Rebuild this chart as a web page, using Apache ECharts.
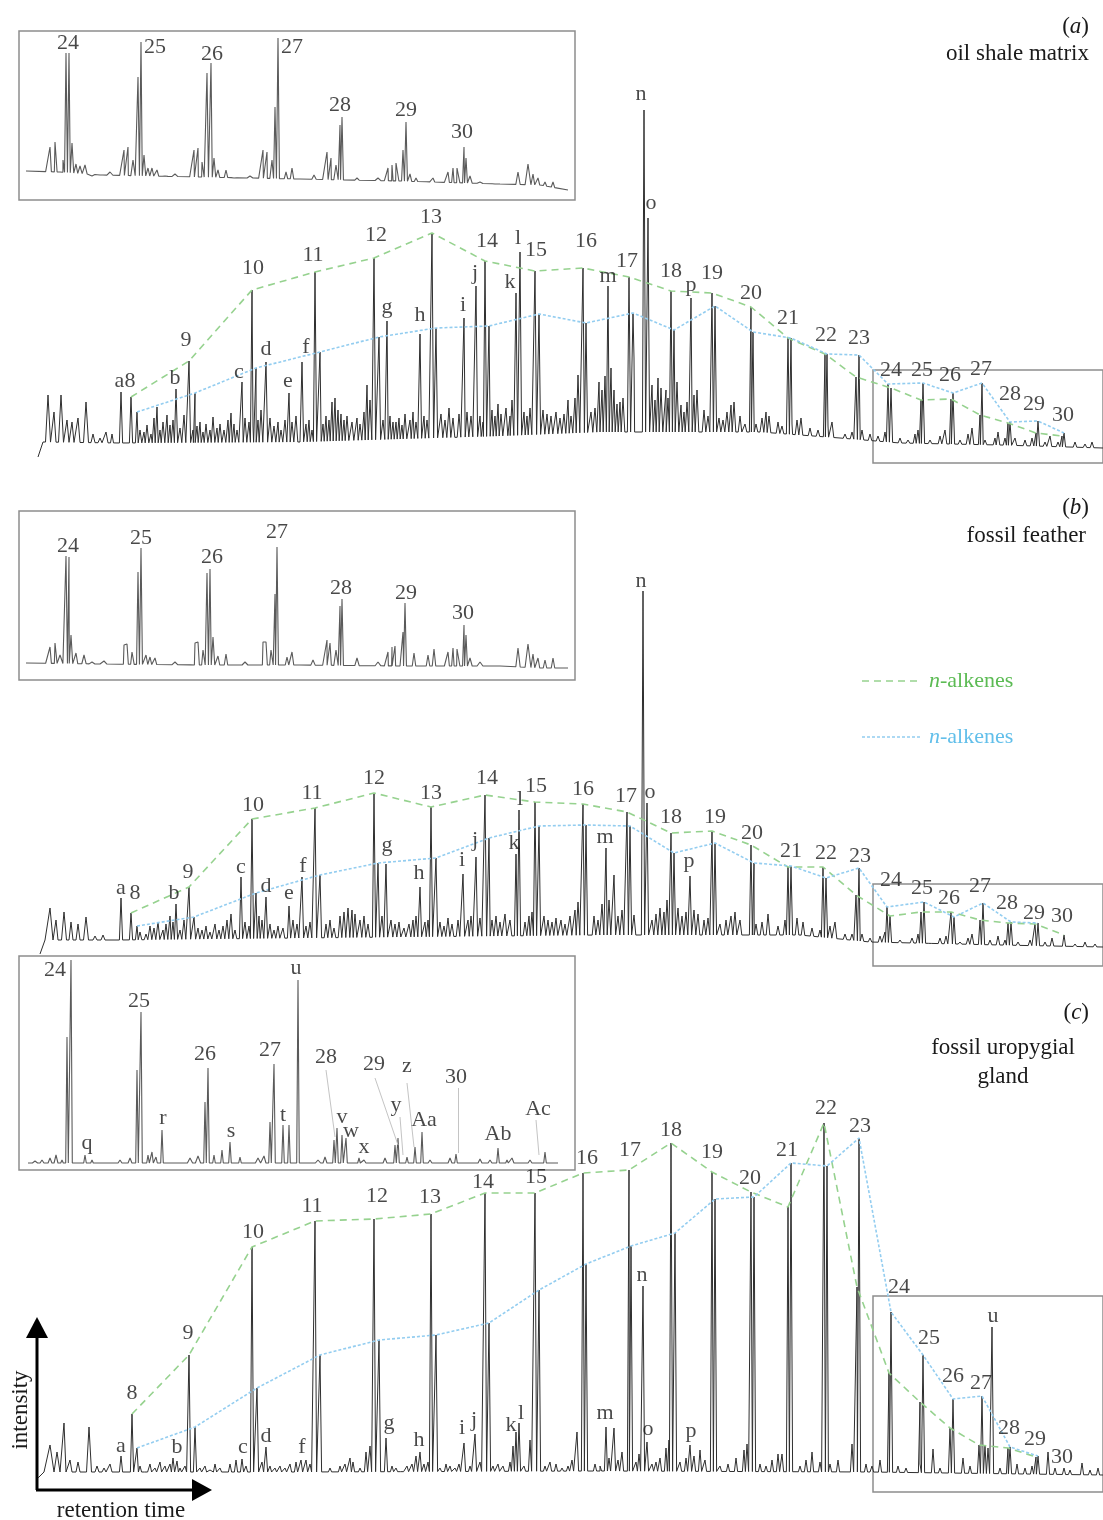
<!DOCTYPE html>
<html>
<head>
<meta charset="utf-8">
<title>pyrolysis chromatograms</title>
<script src="https://cdn.jsdelivr.net/npm/echarts@6/dist/echarts.min.js"></script>
<style>
    html, body { margin: 0; padding: 0; background: #fff; }
    #chart { width: 1103px; height: 1520px; }
</style>
</head>
<body>
<div id="chart"></div>
<script>
// x = retention (arbitrary units), y = intensity (arbitrary units)
// [x, intensity] or [x, intensity, half-width]

// ---------- (a) oil shale matrix ----------
var shaleBase = [[38,3],[43,18],[120,17],[300,18],[500,24],[600,28],[760,28],[840,22],[900,17],[1000,15],[1103,12]];
var shaleHumps = [[48,65,2.5],[54,48,2],[61,65,2.5],[67,40,2],[72,38,2],[78,42,2],[86,58,2.5],[93,26,2],[100,22,2],[106,28,2],[112,26,1.5]];
var shaleAlkanes = [[131,63],[189,99],[252,170],[315,188],[374,202],[432,227],[485,199],[535,189],[583,192],[629,183],[671,169],[712,167],[751,153],[788,122],[825,106],[856,83],[891,72],[921,60],[951,61],[980,45],[1008,37],[1036,27],[1062,24]];
var shaleAlkenes = [[137,48],[195,67],[256,92],[320,108],[379,123],[436,132],[489,134],[539,146],[586,137],[633,147],[674,130],[715,154],[753,128],[791,122],[827,106],[859,105],[888,76],[923,77],[953,67],[982,77],[1010,38],[1038,39],[1064,27]];
var shaleOther = [[121,68],[176,71],[242,78],[266,98],[289,67],[302,98],[387,139],[420,126],[464,142],[476,174],[516,167],[520,208],[608,174],[644,350],[648,242],[691,162]];
var shaleMinor = [[140,30],[144,28],[147,35],[151,26],[154,42],[157,53],[160,30],[163,38],[167,45],[170,35],[173,40],[180,32],[184,45],[193,30],[197,34],[200,38],[203,28],[206,36],[210,30],[213,43],[217,32],[220,36],[224,30],[228,40],[231,47],[234,36],[237,30],[245,42],[249,38],[253,34],[258,40],[261,50],[270,42],[274,34],[278,38],[281,30],[285,40],[292,38],[296,44],[306,36],[309,40],[312,30],[323,36],[326,44],[329,40],[332,58],[335,62],[338,50],[341,46],[344,40],[347,44],[352,38],[357,42],[360,36],[364,48],[367,75],[370,60],[383,40],[390,44],[393,38],[396,38],[399,42],[402,35],[405,46],[410,40],[413,48],[416,38],[424,44],[427,40],[441,46],[445,40],[449,52],[453,42],[459,46],[467,48],[471,44],[480,44],[483,38],[492,50],[495,44],[498,56],[501,46],[506,52],[510,44],[512,60],[524,48],[527,44],[530,52],[543,50],[547,46],[551,44],[556,48],[560,42],[564,46],[568,60],[571,44],[575,62],[578,85],[591,48],[595,52],[599,78],[602,70],[605,84],[611,92],[614,70],[617,56],[620,58],[623,62],[634,102],[652,75],[655,60],[658,82],[661,72],[666,70],[668,62],[677,78],[681,55],[684,48],[687,58],[694,65],[697,70],[704,50],[708,44],[719,42],[723,40],[727,48],[731,55],[734,58],[740,44],[745,36],[756,36],[762,42],[766,48],[769,44],[778,38],[782,34],[792,36],[797,40],[801,42],[810,32],[818,30],[828,34],[832,38],[845,26],[852,28],[862,30],[870,26],[878,24],[885,28],[900,22],[908,20],[915,26],[918,30],[930,20],[940,24],[945,30],[960,20],[968,26],[972,32],[985,20],[995,22],[998,28],[1005,22],[1015,22],[1025,20],[1032,22],[1045,18],[1050,24],[1058,18],[1075,18],[1085,16],[1092,18]];
var shaleLabels = [['a8',125,79],['b',175,82],['9',186,120],['c',239,88],['10',253,192],['d',266,111],['e',288,79],['f',306,113],['11',313,205],['12',376,225],['g',387,153],['h',420,145],['13',431,243],['i',463,155],['j',475,187],['14',487,219],['k',510,178],['l',518,222],['15',536,210],['16',586,219],['m',608,184],['17',627,199],['n',641,366],['o',651,257],['18',671,189],['p',691,175],['19',712,187],['20',751,167],['21',788,142],['22',826,125],['23',859,122],['24',891,90],['25',922,90],['26',950,85],['27',981,91],['28',1010,66],['29',1034,56],['30',1063,45]];

var shaleInsetBase = [[26,29],[60,28],[100,25],[200,23],[300,21],[400,19],[500,16],[540,15],[568,10]];
var shaleInsetPeaks = [[66,147],[69,147],[138,123],[141,158],[207,127],[211,137],[275,93],[278,162],[340,75],[342,83],[403,50],[406,78],[464,53],[466,42]];
var shaleInsetMinor = [[50,53,3],[55,58,2.5],[60,30,2],[63,40,1.5],[72,57,1.2],[76,36,1.2],[80,34,1.5],[85,35,1.5],[92,24,2],[100,26,2],[104,24,2],[110,28,2],[124,50,3],[128,53,2.5],[133,40,1.5],[144,45,1.2],[148,32,1.2],[152,32,1.2],[157,30,1.2],[165,24,2],[175,26,2],[194,50,3],[198,52,2.5],[202,38,1.5],[214,42,1.2],[218,30,1.2],[226,30,1.2],[234,22,2],[250,24,2],[263,50,3],[267,48,2.5],[272,40,1.5],[286,28,1.2],[292,32,1.2],[314,25,1.5],[327,48,3],[331,42,2],[336,35,1.5],[357,22,1.5],[378,22,2],[388,32,2.5],[392,35,2.5],[396,37,2],[410,26,1.2],[416,22,1.2],[428,20,1.2],[433,22,1.2],[448,28,2.5],[453,32,2.5],[457,32,2],[470,24,1.5],[480,18,2],[495,16,2],[518,28,1.5],[528,36,2],[533,26,1.2],[538,22,1.2],[545,18,1.2],[553,18,1.2]];
var shaleInsetLabels = [['24',68,157],['25',155,153],['26',212,146],['27',292,153],['28',340,95],['29',406,90],['30',462,68]];

// ---------- (b) fossil feather ----------
var featherBase = [[40,6],[45,20],[120,20],[300,22],[600,25],[800,25],[870,18],[1000,15],[1103,13]];
var featherHumps = [[50,52,3],[56,40,2],[64,48,2.5],[71,38,2],[78,36,2],[86,43,2.5],[95,24,2],[103,25,2],[110,22,2]];
var featherAlkanes = [[131,47],[189,73],[252,141],[315,152],[374,167],[431,153],[485,165],[535,158],[583,156],[627,148],[671,127],[712,129],[751,115],[788,93],[823,93],[856,65],[890,44],[921,48],[951,48],[980,40],[1008,37],[1035,36],[1064,25]];
var featherAlkenes = [[137,34],[194,43],[256,67],[320,85],[378,97],[436,102],[489,122],[539,134],[586,135],[630,134],[674,107],[715,117],[754,97],[791,94],[826,82],[859,92],[887,53],[924,58],[954,43],[983,57],[1011,38],[1038,37]];
var featherOther = [[121,62],[176,56],[241,83],[266,63],[289,54],[302,83],[386,96],[420,73],[463,86],[476,103],[516,106],[519,150],[606,112],[614,85],[643,369],[647,157],[690,84]];
var featherMinor = [[140,28],[146,26],[150,34],[154,32],[158,38],[163,30],[166,36],[170,44],[173,38],[180,30],[184,40],[198,32],[202,30],[206,34],[210,28],[215,36],[219,30],[223,34],[227,40],[231,46],[235,30],[245,38],[249,34],[259,44],[262,40],[270,36],[274,30],[278,34],[283,32],[293,40],[297,36],[306,34],[310,38],[326,36],[330,40],[334,32],[340,44],[344,48],[348,52],[352,50],[355,46],[360,40],[364,44],[368,36],[382,44],[391,40],[395,36],[399,38],[404,32],[409,36],[413,40],[416,44],[425,38],[428,40],[440,38],[444,34],[448,42],[452,36],[458,40],[468,40],[471,44],[480,42],[492,40],[496,44],[500,38],[505,46],[510,40],[525,38],[529,44],[532,48],[544,44],[548,40],[552,38],[556,42],[561,40],[565,36],[570,44],[575,50],[578,58],[594,44],[598,40],[602,56],[609,60],[618,44],[622,50],[634,45],[652,40],[656,46],[660,52],[664,48],[667,60],[678,52],[682,44],[686,48],[694,50],[698,46],[704,40],[708,42],[720,36],[726,40],[731,44],[735,48],[740,40],[756,36],[762,38],[768,46],[778,34],[785,40],[797,42],[803,38],[812,32],[820,30],[830,34],[835,38],[845,26],[852,26],[862,26],[870,22],[880,24],[885,28],[900,20],[912,22],[918,26],[930,18],[940,22],[946,24],[960,18],[968,22],[972,26],[990,20],[998,24],[1005,20],[1018,18],[1030,20],[1045,18],[1052,22],[1075,16],[1085,18],[1095,16]];
var featherLabels = [['a',121,72],['8',135,67],['b',174,67],['9',188,88],['c',241,93],['10',253,155],['d',266,74],['e',289,67],['f',303,94],['11',312,167],['12',374,182],['g',387,115],['h',419,87],['13',431,167],['i',462,100],['j',475,120],['14',487,182],['k',514,117],['l',520,161],['15',536,174],['16',583,171],['m',605,123],['17',626,164],['n',641,379],['o',650,168],['18',671,143],['p',689,99],['19',715,143],['20',752,127],['21',791,109],['22',826,107],['23',860,104],['24',891,80],['25',922,72],['26',949,62],['27',980,74],['28',1007,57],['29',1034,47],['30',1062,44]];

var featherInsetBase = [[26,17],[100,16],[200,15],[300,15],[400,14],[500,14],[540,12],[568,12]];
var featherInsetPeaks = [[66,124],[69,123],[138,108],[141,132],[207,107],[210,111],[275,86],[277,133],[340,74],[342,81],[403,48],[405,77],[464,55],[466,45]];
var featherInsetMinor = [[50,33,3],[55,37,2.5],[60,25,2],[71,45,1.2],[76,27,1.2],[84,25,1.5],[92,18,2],[104,19,2],[124,35,3],[127,36,2.5],[132,28,1.5],[146,25,1.2],[150,23,1.2],[155,22,1.2],[175,18,2],[195,37,3],[198,38,2.5],[203,30,1.5],[213,43,1.2],[218,24,1.2],[226,26,1.2],[245,18,2],[263,38,3],[266,38,2.5],[271,30,1.5],[287,23,1.2],[292,28,1.2],[313,20,1.5],[327,40,3],[330,37,2],[336,30,1.5],[357,22,1.5],[378,18,2],[388,28,2.5],[392,33,2.5],[395,34,2],[414,27,1.2],[428,25,1.2],[434,31,1.2],[448,28,2.5],[453,32,2.5],[457,31,2],[470,22,1.5],[480,18,2],[518,32,1.5],[528,36,2],[533,26,1.2],[538,22,1.2],[545,20,1.2],[553,22,1.2]];
var featherInsetLabels = [['24',68,134],['25',141,142],['26',212,123],['27',277,148],['28',341,92],['29',406,87],['30',463,67]];

// ---------- (c) fossil uropygial gland ----------
var glandBase = [[38,2],[44,8],[300,8],[600,9],[870,8],[1103,5]];
var glandHumps = [[50,35,4],[57,28,3],[64,57,2],[70,20,2],[78,18,2],[89,53,2.5],[97,14,2],[104,12,2],[110,16,2]];
var glandAlkanes = [[132,66],[189,125],[252,233],[315,259],[374,261],[431,266],[485,287],[535,287],[583,307],[629,310],[671,337],[712,308],[751,288],[788,273],[824,357],[857,193],[889,107],[920,78],[950,52],[979,35],[1008,32],[1036,23]];
var glandAlkenes = [[137,32],[195,53],[257,92],[320,125],[379,140],[436,145],[489,157],[539,190],[586,216],[631,234],[675,247],[715,281],[754,283],[791,317],[827,314],[859,342],[891,168],[923,125],[953,81],[982,84],[1010,33],[1038,24]];
var glandOther = [[121,24],[177,19],[242,21],[266,33],[301,20],[386,42],[420,28],[464,37],[475,46],[516,48],[519,57],[606,53],[614,52],[643,194],[647,38],[690,35],[992,153]];
var glandMinor = [[140,14],[146,10],[150,16],[155,12],[160,18],[165,14],[170,16],[173,22],[180,12],[185,14],[200,12],[205,14],[210,10],[215,16],[220,12],[230,16],[236,20],[246,14],[262,18],[270,14],[275,12],[280,14],[285,12],[290,16],[296,18],[306,20],[310,16],[330,12],[340,14],[345,16],[350,22],[353,18],[360,12],[366,28],[370,34],[392,14],[396,12],[402,10],[407,14],[412,16],[416,24],[424,16],[428,18],[440,12],[446,16],[450,14],[455,12],[459,16],[470,14],[480,18],[493,14],[498,16],[503,14],[510,18],[513,34],[524,14],[530,40],[545,14],[550,18],[556,16],[562,12],[568,14],[572,20],[577,48],[595,16],[600,14],[609,22],[618,20],[622,28],[636,18],[639,26],[652,16],[656,18],[660,22],[666,32],[669,40],[680,18],[686,22],[694,24],[700,30],[705,20],[720,14],[728,16],[736,22],[744,30],[747,36],[760,16],[766,14],[772,20],[778,26],[782,26],[800,14],[806,20],[812,28],[820,18],[830,16],[838,20],[852,36],[866,16],[872,14],[880,20],[898,14],[906,12],[920,16],[933,31],[940,12],[963,22],[970,14],[985,35],[988,32],[1000,12],[1017,16],[1025,12],[1032,14],[1048,28],[1055,12],[1064,12],[1070,10],[1082,17],[1090,10],[1098,12]];
var glandLabels = [['a',121,34],['8',132,87],['b',177,33],['9',188,147],['c',243,33],['10',253,248],['d',266,44],['f',302,33],['11',312,274],['12',377,284],['g',389,57],['h',419,40],['13',430,283],['i',462,52],['j',474,60],['14',483,298],['k',511,55],['l',521,67],['15',536,303],['16',587,322],['m',605,67],['17',630,330],['n',642,205],['o',648,51],['18',671,350],['p',691,49],['19',712,328],['20',750,302],['21',787,330],['22',826,372],['23',860,354],['24',899,193],['25',929,142],['26',953,104],['27',981,97],['u',993,164],['28',1009,52],['29',1035,41],['30',1062,23]];

var glandInsetBase = [[28,7],[558,7]];
var glandInsetPeaks = [[67,133],[71,210],[85,15],[92,10],[137,100],[141,158],[148,15],[152,18],[156,13],[162,40],[205,68],[208,102],[214,15],[222,20],[230,28],[240,13],[270,48],[274,106],[283,45],[289,45],[298,190],[334,30],[337,42],[342,35],[346,32],[359,12],[395,25],[398,32],[407,13],[415,23],[422,38],[456,16],[498,22],[507,10],[538,8],[545,18]];
var glandInsetMinor = [[35,9,2],[42,10,1.5],[50,12,1.5],[56,15,1.5],[62,10,1],[110,9,1.5],[120,10,1.5],[130,12,1.5],[178,9,1.5],[190,12,2],[198,14,2],[246,9,1.5],[258,12,2],[264,14,1.5],[318,10,2],[325,13,1.5],[364,10,1.5],[372,9,1.5],[385,12,1.5],[430,10,1.5],[440,9,1.5],[450,12,1.5],[470,9,1.5],[480,11,1.5],[490,10,1.5],[512,12,1.5],[522,9,1.5],[530,10,1.5],[552,8,1.5]];
var glandInsetLabels = [['24',55,200],['q',87,27],['25',139,169],['r',163,52],['26',205,116],['s',231,39],['27',270,120],['t',283,55],['u',296,202],['28',326,113],['v',342,53],['w',351,39],['x',364,23],['29',374,106],['y',396,65],['z',407,104],['Aa',424,50],['30',456,93],['Ab',498,36],['Ac',538,61]];
var glandInsetLeaders = [[[326,100],[335,33]],[[375,92],[398,25]],[[400,53],[403,15]],[[407,87],[414,23]],[[458,82],[458,17]],[[536,50],[539,15]]];

var serif = '"Liberation Serif", "DejaVu Serif", serif';
var green = '#96d28f';
var blue = '#93cdf0';

// baseline level under a given retention
function baseAt(base, x) {
    if (x <= base[0][0]) return base[0][1];
    for (var i = 1; i < base.length; i++) {
        if (x <= base[i][0]) {
            var t = (x - base[i - 1][0]) / (base[i][0] - base[i - 1][0]);
            return base[i - 1][1] + t * (base[i][1] - base[i - 1][1]);
        }
    }
    return base[base.length - 1][1];
}

// every peak becomes a narrow spike standing on the baseline
function buildTrace(base, groups, width, scale) {
    var pts = base.map(function (b) { return [b[0], b[1]]; });
    groups.forEach(function (group) {
        group.forEach(function (p) {
            var w = (p[2] || width) * (scale || 1);
            pts.push([p[0] - w, baseAt(base, p[0] - w)]);
            pts.push([p[0], p[1]]);
            pts.push([p[0] + w, baseAt(base, p[0] + w)]);
        });
    });
    pts.sort(function (a, b) { return a[0] - b[0]; });
    return pts;
}

function withWidth(list, w) {
    return list.map(function (p) { return [p[0], p[1], w]; });
}

function traceSeries(idx, data, color, width, box) {
    var s = {
        type: 'line', xAxisIndex: idx, yAxisIndex: idx,
        data: data, symbol: 'none', silent: true,
        lineStyle: {color: color, width: width}, z: 2
    };
    if (box) {
        s.markArea = {
            silent: true,
            label: {show: false},
            itemStyle: {color: 'rgba(0,0,0,0)', borderColor: '#8d8d8d', borderWidth: 1.5},
            data: [[{coord: [box[0], box[1]]}, {coord: [box[2], box[3]]}]]
        };
    }
    return s;
}

function guideSeries(idx, data, color, dash) {
    return {
        type: 'line', xAxisIndex: idx, yAxisIndex: idx,
        data: data.map(function (p) { return [p[0], p[1]]; }),
        symbol: 'none', silent: true, z: 4,
        lineStyle: {color: color, width: 1.6, type: dash}
    };
}

function labelSeries(idx, list) {
    return {
        type: 'scatter', xAxisIndex: idx, yAxisIndex: idx,
        symbolSize: 1, clip: false, silent: true, z: 6,
        itemStyle: {color: 'rgba(0,0,0,0)'},
        label: {show: true, position: 'inside', formatter: '{b}', color: '#1a1a1a', fontFamily: serif, fontSize: 22},
        data: list.map(function (l) { return {name: l[0], value: [l[1], l[2]]}; })
    };
}

var myChart = echarts.init(document.getElementById('chart'));

// grids 0-2: main traces, 3-5: insets
var grids = [
    {left: 0, top: 100, width: 1103, height: 370},
    {left: 0, top: 580, width: 1103, height: 390},
    {left: 0, top: 1100, width: 1103, height: 395},
    {left: 19, top: 31, width: 556, height: 169, show: true, borderColor: '#8d8d8d', borderWidth: 1.5},
    {left: 19, top: 511, width: 556, height: 169, show: true, borderColor: '#8d8d8d', borderWidth: 1.5},
    {left: 19, top: 956, width: 556, height: 214, show: true, borderColor: '#8d8d8d', borderWidth: 1.5}
];
var yRanges = [[-10, 360], [-10, 380], [-15, 380], [0, 169], [0, 169], [0, 214]];

var xAxes = grids.map(function (g, i) {
    return i < 3 ? {type: 'value', gridIndex: i, min: 0, max: 1103, show: false}
                 : {type: 'value', gridIndex: i, min: 19, max: 575, show: false};
});
var yAxes = yRanges.map(function (r, i) {
    return {type: 'value', gridIndex: i, min: r[0], max: r[1], show: false};
});

var traceColor = '#2f2f2f';
var insetColor = '#5a5a5a';

var series = [
    traceSeries(0, buildTrace(shaleBase, [shaleHumps, shaleAlkanes, shaleAlkenes, shaleOther, withWidth(shaleMinor, 1.8)], 1.6), traceColor, 1, [873, -3, 1115, 90]),
    guideSeries(0, shaleAlkanes, green, [7, 5]),
    guideSeries(0, shaleAlkenes, blue, [3, 2]),
    labelSeries(0, shaleLabels),

    traceSeries(1, buildTrace(featherBase, [featherHumps, featherAlkanes, featherAlkenes, featherOther, withWidth(featherMinor, 1.8)], 1.6), traceColor, 1, [873, -6, 1115, 76]),
    guideSeries(1, featherAlkanes, green, [7, 5]),
    guideSeries(1, featherAlkenes, blue, [3, 2]),
    labelSeries(1, featherLabels),

    traceSeries(2, buildTrace(glandBase, [glandHumps, glandAlkanes, glandAlkenes, glandOther, withWidth(glandMinor, 1.6)], 1.6), traceColor, 1, [873, -12, 1115, 184]),
    guideSeries(2, glandAlkanes, green, [7, 5]),
    guideSeries(2, glandAlkenes, blue, [3, 2]),
    labelSeries(2, glandLabels),

    traceSeries(3, buildTrace(shaleInsetBase, [shaleInsetPeaks, shaleInsetMinor], 1.0, 1.45), insetColor, 1.1),
    labelSeries(3, shaleInsetLabels),
    traceSeries(4, buildTrace(featherInsetBase, [featherInsetPeaks, featherInsetMinor], 1.0, 1.45), insetColor, 1.1),
    labelSeries(4, featherInsetLabels),
    traceSeries(5, buildTrace(glandInsetBase, [glandInsetPeaks, glandInsetMinor], 1.0, 1.3), insetColor, 1.1),
    labelSeries(5, glandInsetLabels),
    {
        type: 'lines', coordinateSystem: 'cartesian2d', xAxisIndex: 5, yAxisIndex: 5,
        silent: true, z: 3,
        lineStyle: {color: '#c4c4c4', width: 1, opacity: 1},
        data: glandInsetLeaders.map(function (c) { return {coords: c}; })
    }
];

function txt(x, y, text, align, extra) {
    var style = {
        x: x, y: y, text: text, fill: '#1a1a1a',
        font: '23px ' + serif, align: align || 'right', verticalAlign: 'middle',
        rich: {i: {fontStyle: 'italic', fontFamily: serif, fontSize: 23, fill: '#1a1a1a'}}
    };
    return Object.assign({type: 'text', style: style}, extra || {});
}

var graphic = [
    txt(1089, 27, '({i|a})'),
    txt(1089, 54, 'oil shale matrix'),
    txt(1089, 508, '({i|b})'),
    txt(1086, 536, 'fossil feather'),
    txt(1089, 1013, '({i|c})'),
    txt(1003, 1048, 'fossil uropygial', 'center'),
    txt(1003, 1077, 'gland', 'center'),

    // legend
    {type: 'line', shape: {x1: 862, y1: 681, x2: 922, y2: 681}, style: {stroke: green, lineWidth: 1.6, lineDash: [7, 5]}},
    {type: 'text', style: {x: 929, y: 681, text: '{i|n}-alkenes', fill: '#5cbb54', font: '22px ' + serif, verticalAlign: 'middle',
        rich: {i: {fontStyle: 'italic', fontFamily: serif, fontSize: 22, fill: '#5cbb54'}}}},
    {type: 'line', shape: {x1: 862, y1: 737, x2: 922, y2: 737}, style: {stroke: blue, lineWidth: 1.6, lineDash: [3, 2]}},
    {type: 'text', style: {x: 929, y: 737, text: '{i|n}-alkenes', fill: '#62bfea', font: '22px ' + serif, verticalAlign: 'middle',
        rich: {i: {fontStyle: 'italic', fontFamily: serif, fontSize: 22, fill: '#62bfea'}}}},

    // axis arrows of panel (c)
    {type: 'line', shape: {x1: 37, y1: 1490, x2: 37, y2: 1336}, style: {stroke: '#000', lineWidth: 3}},
    {type: 'polygon', shape: {points: [[26, 1338], [48, 1338], [37, 1317]]}, style: {fill: '#000'}},
    {type: 'line', shape: {x1: 36, y1: 1490, x2: 194, y2: 1490}, style: {stroke: '#000', lineWidth: 3}},
    {type: 'polygon', shape: {points: [[192, 1479], [192, 1501], [212, 1490]]}, style: {fill: '#000'}},
    txt(0, 0, 'intensity', 'center', {x: 21, y: 1410, rotation: Math.PI / 2}),
    txt(121, 1511, 'retention time', 'center')
];

var option = {
    animation: false,
    backgroundColor: '#fff',
    grid: grids,
    xAxis: xAxes,
    yAxis: yAxes,
    series: series,
    graphic: graphic
};

myChart.setOption(option);
</script>
</body>
</html>
